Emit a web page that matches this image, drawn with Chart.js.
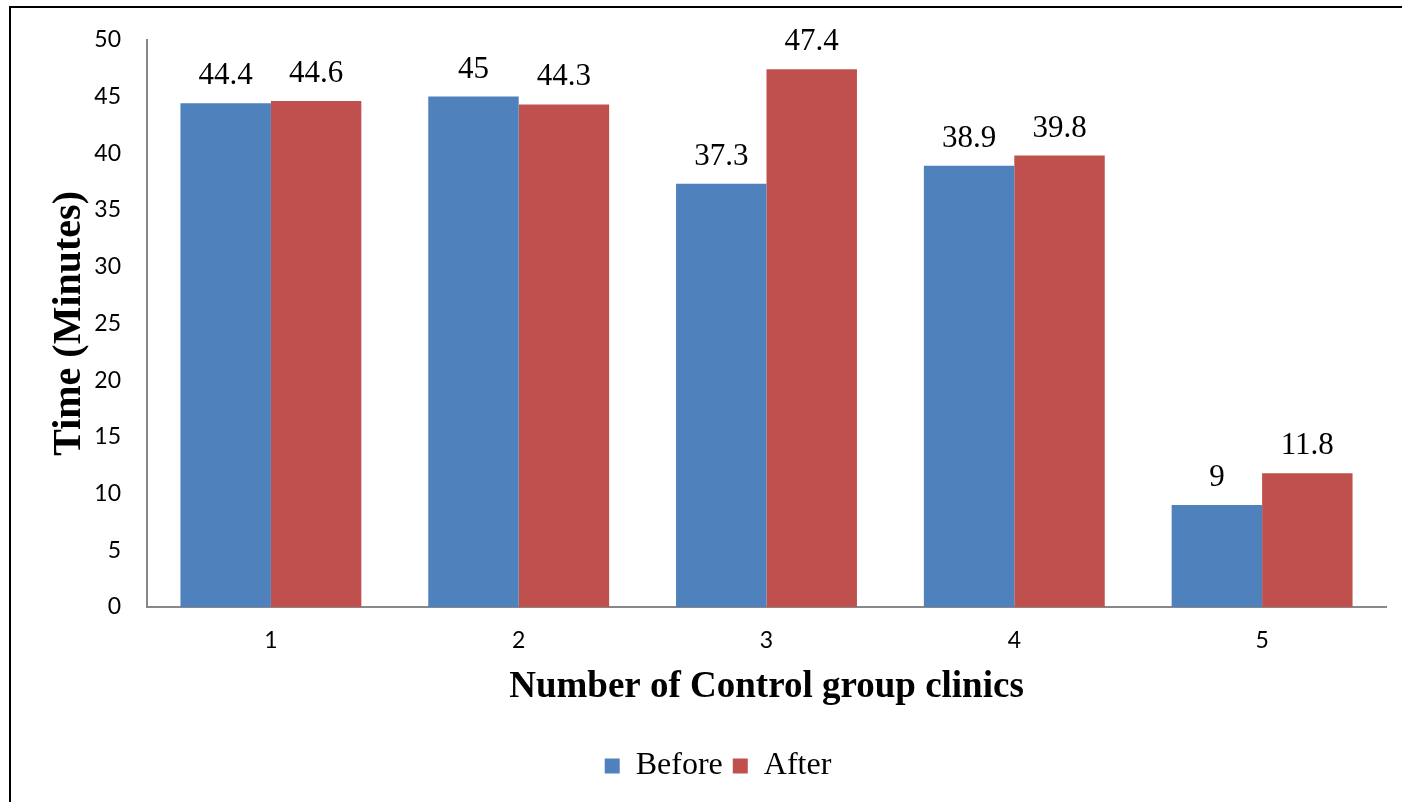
<!DOCTYPE html>
<html>
<head>
<meta charset="utf-8">
<script src="https://cdn.jsdelivr.net/npm/chart.js@4/dist/chart.umd.min.js"></script>
<style>
  html, body { margin: 0; padding: 0; background: #ffffff; }
  #wrap { position: relative; width: 1402px; height: 802px; }
</style>
</head>
<body>
<div id="wrap"><canvas id="c" width="1402" height="802"></canvas></div>
<script>
// ---- data ----
const categories = ['1', '2', '3', '4', '5'];
const beforeValues = [44.4, 45, 37.3, 38.9, 9];
const afterValues = [44.6, 44.3, 47.4, 39.8, 11.8];
const seriesNames = ['Before', 'After'];
const yMin = 0;
const yMax = 50;
const yStep = 5;
const xTitle = 'Number of Control group clinics';
const yTitle = 'Time (Minutes)';

const SERIF = '"Liberation Serif", "Times New Roman", serif';
const SANS = 'Lato, "Open Sans", Calibri, sans-serif';

const frameBorder = {
  id: 'frameBorder',
  beforeDraw(chart) {
    const ctx = chart.ctx;
    ctx.save();
    ctx.fillStyle = '#ffffff';
    ctx.fillRect(0, 0, chart.width, chart.height);
    ctx.fillStyle = '#000000';
    ctx.fillRect(9, 6, chart.width - 9, 2);
    ctx.fillRect(9, 6, 2, chart.height - 6);
    ctx.restore();
  }
};

const valueLabels = {
  id: 'valueLabels',
  afterDatasetsDraw(chart) {
    const ctx = chart.ctx;
    ctx.save();
    ctx.font = '31px ' + SERIF;
    ctx.fillStyle = '#000000';
    ctx.textAlign = 'center';
    ctx.textBaseline = 'alphabetic';
    chart.data.datasets.forEach((ds, di) => {
      const meta = chart.getDatasetMeta(di);
      meta.data.forEach((el, i) => {
        ctx.fillText(String(ds.data[i]), el.x, el.y - 19);
      });
    });
    ctx.restore();
  }
};

const legendShift = {
  id: 'legendShift',
  afterLayout(chart) {
    const lg = chart.legend;
    if (!lg) return;
    const d = 25;
    lg.left += d;
    lg.right += d;
  }
};

new Chart(document.getElementById('c'), {
  type: 'bar',
  data: {
    labels: categories,
    datasets: [
      { label: seriesNames[0], data: beforeValues, backgroundColor: '#4F81BD', borderWidth: 0 },
      { label: seriesNames[1], data: afterValues, backgroundColor: '#C0504D', borderWidth: 0 }
    ]
  },
  options: {
    responsive: false,
    animation: false,
    events: [],
    layout: { padding: { top: 37, right: 16, bottom: 10, left: 0 } },
    datasets: { bar: { categoryPercentage: 0.73, barPercentage: 1.0 } },
    plugins: {
      tooltip: { enabled: false },
      legend: {
        position: 'bottom',
        labels: {
          boxWidth: 15,
          boxHeight: 15,
          padding: 10,
          color: '#000000',
          font: { family: SERIF, size: 32 }
        }
      }
    },
    scales: {
      x: {
        grid: { display: false, drawTicks: false },
        border: { display: true, color: '#888888', width: 2 },
        ticks: { color: '#000000', padding: 20, font: { family: SANS, size: 23 } },
        title: {
          display: true,
          text: xTitle,
          color: '#000000',
          font: { family: SERIF, size: 37, weight: 'bold' },
          padding: { top: 0, bottom: 30 }
        },
        afterFit(scale) { scale.height = 133; }
      },
      y: {
        min: yMin,
        max: yMax,
        grid: { display: false, drawTicks: false },
        border: { display: true, color: '#888888', width: 2 },
        ticks: { stepSize: yStep, color: '#000000', padding: 26, font: { family: SANS, size: 23 } },
        title: {
          display: true,
          text: yTitle,
          color: '#000000',
          font: { family: SERIF, size: 40, weight: 'bold' },
          padding: { top: 46, bottom: 0 }
        },
        afterFit(scale) { scale.width = 147; }
      }
    }
  },
  plugins: [frameBorder, valueLabels, legendShift]
});
</script>
</body>
</html>
